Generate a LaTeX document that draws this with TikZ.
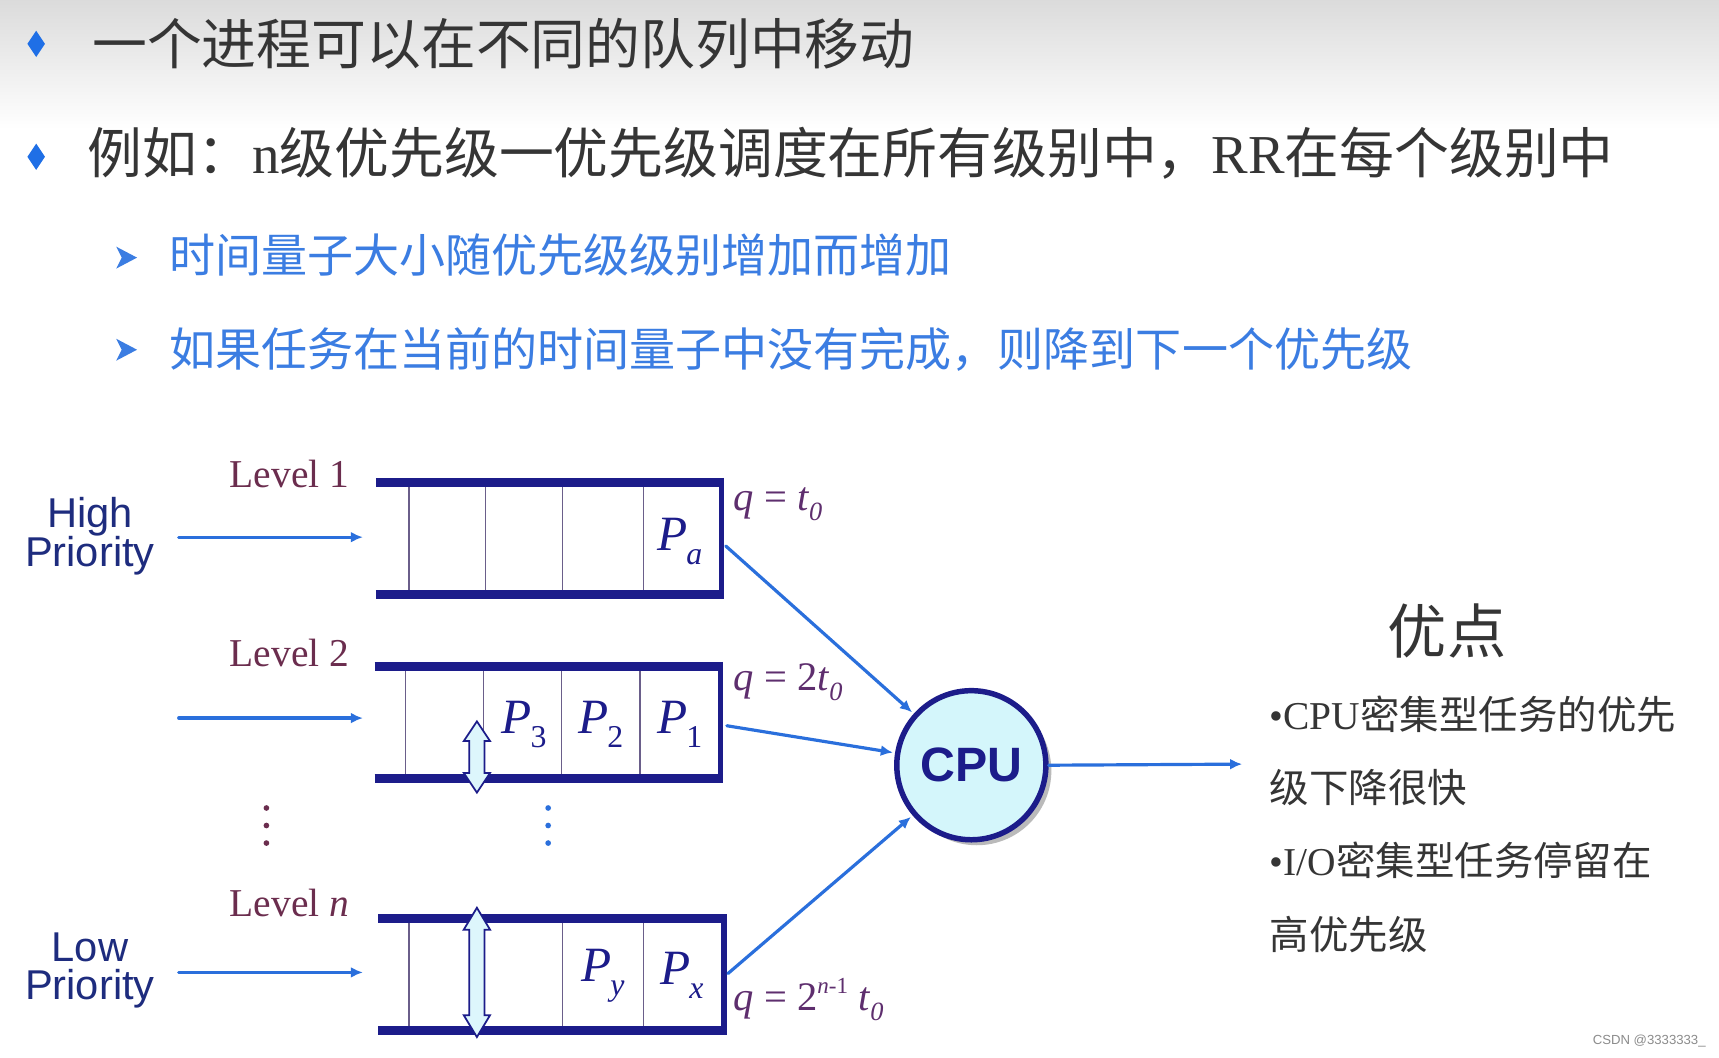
\documentclass[tikz,border=0pt]{standalone}
\usepackage{fontspec}
\setmainfont{Liberation Serif}
\newfontfamily\cjk{Noto Sans CJK SC}
\newfontfamily\arial{Liberation Sans}
\usetikzlibrary{arrows.meta,shadows}
\definecolor{navy}{HTML}{1C1C8A}
\definecolor{divc}{HTML}{6A5E8A}
\definecolor{lvl}{HTML}{6B2D4E}
\definecolor{hp}{HTML}{1E2C7E}
\definecolor{flowc}{HTML}{2A6FDC}
\definecolor{qc}{HTML}{5E2E6E}
\definecolor{cpuf}{HTML}{D4F6FB}
\definecolor{dblf}{HTML}{DDF6FC}
\definecolor{titlec}{HTML}{353535}
\definecolor{subc}{HTML}{3B7DE2}
\definecolor{bulc}{HTML}{1F6FE6}
\newcommand\PP[1]{\textit{P}\kern-1pt\raisebox{-0.28em}{\fontsize{29}{29}\selectfont #1}}
\newcommand\tz{\textit{t}\raisebox{-0.25em}{\fontsize{24}{24}\selectfont\textit{0}}}
\begin{document}
\begin{tikzpicture}[x=1pt,y=-1pt,
  bar/.style={draw=navy,line width=8pt},
  redge/.style={draw=navy,line width=5pt},
  divl/.style={draw=divc,line width=1.4pt},
  qbox/.style={inner sep=0pt,minimum width=315pt,minimum height=102pt},
  flow/.style={draw=flowc,line width=2.9pt,line cap=round,-{Latex[length=11pt,width=10pt]}},
  plabel/.style={text=navy,font=\fontsize{45}{45}\selectfont,inner sep=0pt},
  qlabel/.style={text=qc,font=\fontsize{37}{37}\selectfont,anchor=west,inner sep=0pt},
  lvlabel/.style={text=lvl,font=\fontsize{36}{36}\selectfont,inner sep=0pt},
  prio/.style={text=hp,font=\arial\fontsize{38}{38}\selectfont,align=center,inner sep=0pt},
  title/.style={text=titlec,font=\cjk\fontsize{50}{60}\selectfont,anchor=west,inner sep=0pt},
  sub/.style={text=subc,font=\cjk\fontsize{42}{50}\selectfont,anchor=west,inner sep=0pt},
  adv/.style={text=titlec,font=\cjk\fontsize{36}{44}\selectfont,anchor=west,inner sep=0pt},
  dbl/.style={draw=navy,fill=dblf,line width=1.6pt,line join=miter},
  dotm/.style={fill=lvl},
  dotb/.style={fill=flowc}
]
\useasboundingbox (0,0) rectangle (1568,965);
\fill[white] (0,0) rectangle (1568,965);
\shade[top color=black!14,bottom color=white] (0,0) rectangle (1568,118);

% bullets
\fill[bulc] (33,28) -- (41,40) -- (33,52) -- (25,40) -- cycle;
\fill[bulc] (33,131) -- (41,143) -- (33,155) -- (25,143) -- cycle;
\fill[subc] (106,225) -- (125,235) -- (106,245) -- (111,235) -- cycle;
\fill[subc] (106,309) -- (125,319) -- (106,329) -- (111,319) -- cycle;

\node[title] (t1) at (84,40) {一个进程可以在不同的队列中移动};
\node[title] (t2) at (80,140) {例如：{\rmfamily n}级优先级一优先级调度在所有级别中，{\rmfamily RR}在每个级别中};
\node[sub] (t3) at (154,233) {时间量子大小随优先级级别增加而增加};
\node[sub] (t4) at (154,319) {如果任务在当前的时间量子中没有完成，则降到下一个优先级};

% queues
\node[qbox] (q1) at (500.5,491) {};
\node[qbox] (q2) at (499.5,659) {};
\node[qbox] (qn) at (502.5,889) {};

\draw[divl] (373,440) -- (373,542) (443,440) -- (443,542) (513,440) -- (513,542) (587,440) -- (587,542);
\draw[divl] (370,608) -- (370,710) (441,608) -- (441,710) (512,608) -- (512,710) (584,608) -- (584,710);
\draw[divl] (373,838) -- (373,940) (513,838) -- (513,940) (587,838) -- (587,940);

\foreach \q in {q1,q2,qn}{
  \draw[bar] (\q.north west) -- ([xshift=2.5pt]\q.north east);
  \draw[bar] (\q.south west) -- ([xshift=2.5pt]\q.south east);
  \draw[redge] ([yshift=4pt]\q.north east) -- ([yshift=-4pt]\q.south east);
}

% labels in cells
\node[plabel] (pa) at (620,494) {\PP{\textit{a}}};
\node[plabel] (p3) at (478,661) {\PP{3}};
\node[plabel] (p2) at (548,661) {\PP{2}};
\node[plabel] (p1) at (620,661) {\PP{1}};
\node[plabel] (py) at (550,890) {\PP{\textit{y}}};
\node[plabel] (px) at (622,890) {\PP{\textit{x}}};

% double arrows
\draw[dbl] (435,658) -- (447,676) -- (442,676) -- (442,705) -- (447,705) -- (435,723) -- (423,705) -- (428,705) -- (428,676) -- (423,676) -- cycle;
\draw[dbl] (435,828) -- (447,848) -- (442,848) -- (442,926) -- (447,926) -- (435,946) -- (423,926) -- (428,926) -- (428,848) -- (423,848) -- cycle;

% level labels
\node[lvlabel] (l1) at (264,432) {Level 1};
\node[lvlabel] (l2) at (264,596) {Level 2};
\node[lvlabel] (ln) at (264,824) {Level \textit{n}};

\node[prio] (hi) at (82,489) {High\\[-3pt]Priority};
\node[prio] (lo) at (82,885) {Low\\[-3pt]Priority};

% dots
\foreach \yy in {737,753,769}{
  \fill[dotm] (243,\yy) circle (2.6);
  \fill[dotb] (500,\yy) circle (2.6);
}

% q labels
\node[qlabel] (qa) at (669,460) {\textit{q} = \tz};
\node[qlabel] (qb) at (669,622) {\textit{q} = 2\tz};
\node[qlabel] (qcn) at (669,912) {\textit{q} = 2\raisebox{0.42em}{\fontsize{21}{21}\selectfont\textit{n}-1}\ \tz};

% CPU
\node[circle,draw=navy,line width=5pt,fill=cpuf,minimum size=136pt,inner sep=0pt,
  drop shadow={shadow xshift=5pt,shadow yshift=-5pt,fill=black!45,opacity=0.6},
  font=\arial\bfseries\fontsize{44}{44}\selectfont,text=navy] (cpu) at (886,698) {CPU};

% input arrows
\coordinate (i1) at (163,490); \coordinate (e1) at (331,490);
\coordinate (i2) at (163,655); \coordinate (e2) at (331,655);
\coordinate (i3) at (163,887); \coordinate (e3) at (331,887);
\draw[flow] (i1) -- (e1);
\draw[flow] (i2) -- (e2);
\draw[flow] (i3) -- (e3);

% to CPU
\coordinate (o1) at (662,498);
\coordinate (o2) at (663,662);
\coordinate (o3) at (664,888);
\draw[flow,shorten >=2pt] (o1) -- (cpu);
\draw[flow,shorten >=2pt] (o2) -- (cpu);
\draw[flow,shorten >=2pt] (o3) -- (cpu);
\coordinate (out) at (1133,697);
\draw[flow] (cpu.east) -- (out);

% advantages
\node[text=titlec,font=\cjk\fontsize{54}{60}\selectfont,inner sep=0pt] (adv) at (1320,576) {优点};
\node[adv] (a1) at (1158,652) {{\rmfamily •CPU}密集型任务的优先};
\node[adv] (a2) at (1158,718) {级下降很快};
\node[adv] (a3) at (1158,785) {{\rmfamily •I/O}密集型任务停留在};
\node[adv] (a4) at (1158,852) {高优先级};

\node[text=black!45,font=\arial\fontsize{12}{12}\selectfont,anchor=east,inner sep=0pt] (wm) at (1556,950) {CSDN @3333333\_};
\end{tikzpicture}
\end{document}
